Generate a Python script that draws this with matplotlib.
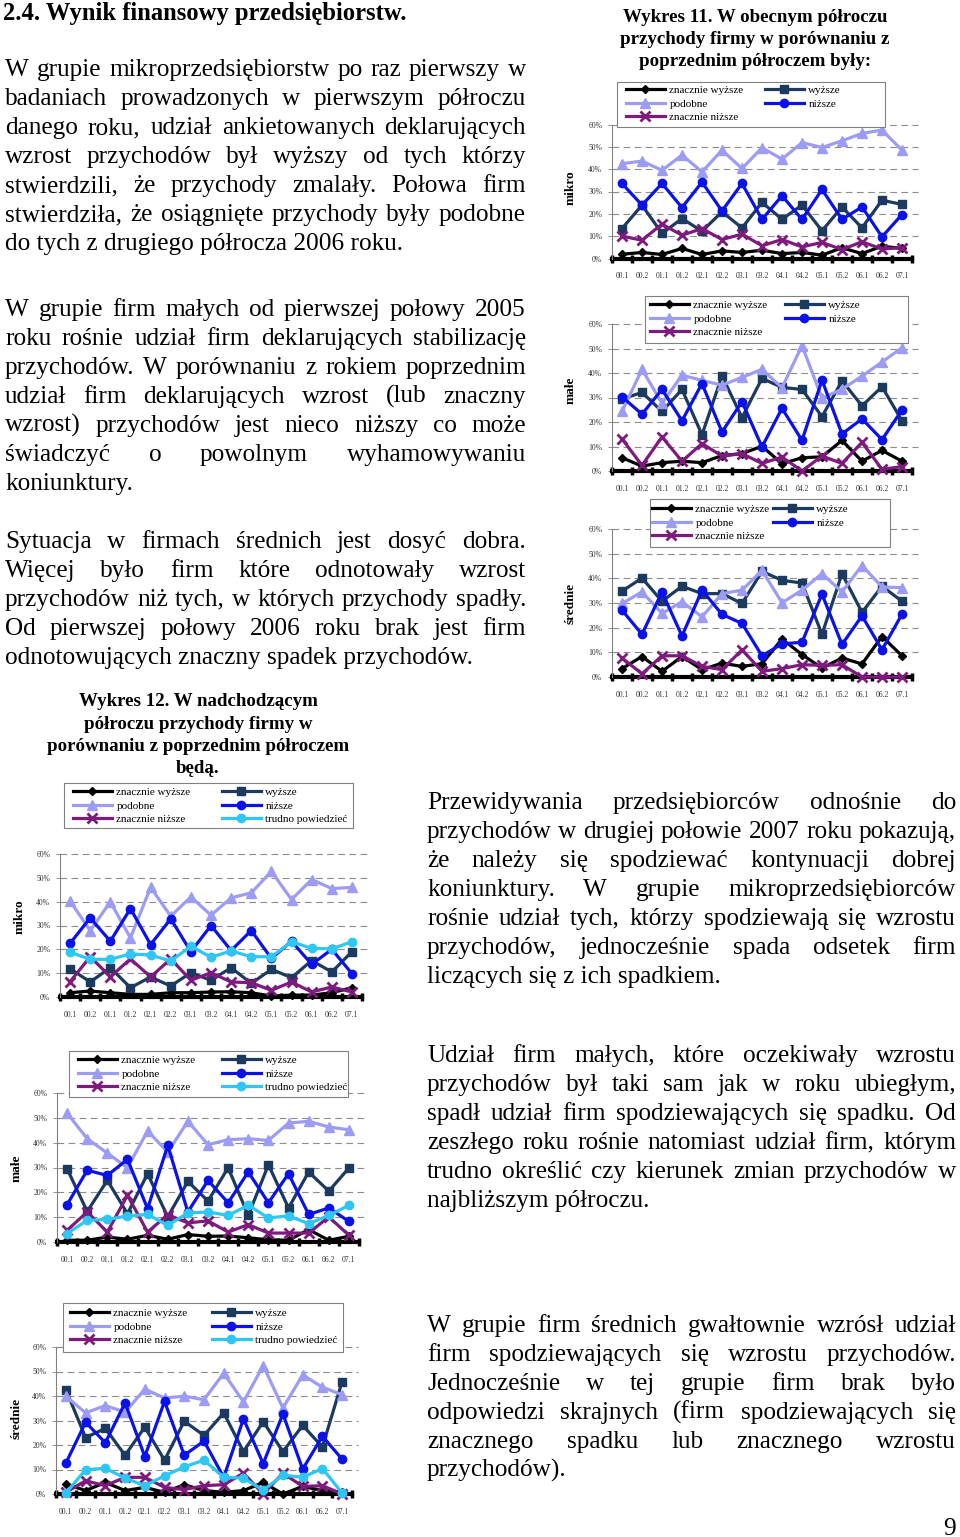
import numpy as np
import matplotlib.pyplot as plt
from matplotlib.font_manager import FontProperties

W, H = 960, 1537
plt.rcParams['font.family'] = ['Liberation Serif', 'DejaVu Serif']

okresy = ['00.1', '00.2', '01.1', '01.2', '02.1', '02.2', '03.1', '03.2',
          '04.1', '04.2', '05.1', '05.2', '06.1', '06.2', '07.1']

# Wykres 11 - obecne półrocze (%)
mikro11_zw = [1.9, 2.7, 1.8, 4.5, 1.8, 3.4, 2.7, 3.7, 2.2, 2.7, 1.5, 4.8, 2.2, 5.5, 4.5]
mikro11_wy = [13.4, 23.9, 11.2, 17.9, 12.2, 20.9, 13.7, 25.1, 17.6, 23.9, 12.4, 23.1, 13.7, 26.1, 24.2]
mikro11_pod = [42.5, 43.6, 39.5, 46.3, 38.8, 48.5, 40.3, 49.6, 44.5, 51.9, 49.7, 52.7, 56.0, 57.5, 48.5]
mikro11_ni = [33.6, 23.9, 33.6, 22.8, 34.2, 21.3, 33.6, 17.5, 28.1, 17.5, 30.9, 17.5, 23.1, 9.7, 19.7]
mikro11_zn = [10.0, 8.2, 15.4, 10.4, 13.4, 8.5, 10.9, 5.7, 8.5, 5.2, 7.2, 4.0, 7.5, 4.2, 4.9]

male11_zw = [5.4, 2.0, 3.4, 4.0, 3.4, 6.3, 7.1, 10.1, 3.0, 5.4, 5.8, 12.5, 4.0, 8.4, 4.0]
male11_wy = [29.3, 32.1, 24.3, 33.3, 14.8, 38.8, 21.8, 37.8, 34.1, 33.3, 22.2, 36.8, 26.6, 34.4, 20.5]
male11_pod = [24.3, 41.5, 27.6, 39.1, 37.0, 35.0, 38.2, 41.5, 34.0, 51.2, 29.7, 33.4, 38.7, 44.5, 50.3]
male11_ni = [30.3, 23.2, 33.3, 20.5, 35.7, 15.9, 28.3, 9.8, 25.6, 12.5, 37.1, 15.1, 21.3, 12.8, 24.9]
male11_zn = [13.1, 2.3, 13.9, 4.0, 11.2, 6.1, 7.1, 3.1, 5.7, 0.0, 6.1, 3.1, 11.7, 0.7, 1.8]

sr11_zw = [3.4, 8.3, 2.3, 8.3, 3.0, 5.6, 4.3, 5.4, 15.4, 9.1, 3.6, 7.7, 5.3, 16.4, 8.6]
sr11_wy = [34.8, 40.1, 30.7, 36.8, 33.8, 33.8, 29.8, 42.8, 39.2, 38.1, 17.3, 41.9, 26.2, 36.8, 30.7]
sr11_pod = [29.8, 34.5, 25.8, 30.5, 24.4, 33.8, 35.2, 43.2, 30.1, 35.2, 41.9, 34.5, 45.2, 36.5, 36.2]
sr11_ni = [27.1, 17.3, 34.5, 16.6, 35.2, 25.4, 21.7, 8.6, 13.4, 14.1, 33.6, 13.2, 24.8, 11.0, 25.5]
sr11_zn = [7.7, 1.3, 8.6, 8.6, 4.3, 3.0, 11.0, 2.3, 3.4, 5.0, 4.7, 5.0, 0.0, 0.0, 0.0]

# Wykres 12 - nadchodzące półrocze (%)
mikro12_zw = [1.8, 2.5, 1.8, 1.1, 1.1, 1.8, 1.8, 2.1, 2.2, 1.8, 0.4, 0.8, 0.8, 1.8, 3.9]
mikro12_wy = [11.9, 6.3, 12.3, 3.9, 8.4, 4.6, 10.2, 7.0, 12.3, 5.7, 11.6, 8.1, 15.3, 10.5, 19.0]
mikro12_pod = [40.2, 27.9, 39.9, 24.8, 46.0, 33.9, 42.0, 34.3, 41.6, 43.7, 52.7, 40.9, 49.3, 45.5, 46.0]
mikro12_ni = [22.5, 33.2, 23.4, 37.1, 22.0, 32.8, 19.0, 30.0, 19.5, 27.9, 16.2, 23.4, 13.7, 20.0, 9.8]
mikro12_zn = [6.4, 16.9, 8.5, 16.0, 8.4, 16.0, 7.0, 10.2, 6.3, 6.0, 2.8, 6.3, 2.1, 4.2, 2.1]
mikro12_tr = [18.8, 15.8, 15.8, 18.1, 17.6, 15.1, 21.3, 16.7, 19.3, 16.9, 16.9, 23.2, 20.4, 20.2, 23.2]

male12_zw = [0.7, 0.7, 2.0, 1.1, 2.7, 1.1, 3.0, 2.3, 2.4, 1.7, 0.9, 0.7, 5.0, 0.7, 2.3]
male12_wy = [29.5, 12.3, 24.8, 11.4, 27.5, 10.1, 24.4, 16.5, 29.9, 10.7, 31.1, 13.7, 28.2, 20.5, 29.8]
male12_pod = [51.9, 41.6, 35.8, 29.9, 44.7, 36.2, 48.6, 39.2, 41.2, 41.6, 40.9, 47.9, 48.6, 46.3, 45.2]
male12_ni = [15.0, 28.9, 26.8, 33.3, 13.4, 38.9, 12.1, 24.8, 15.8, 28.2, 15.8, 27.5, 11.1, 13.7, 8.3]
male12_zn = [4.7, 12.1, 4.0, 18.8, 4.0, 11.0, 7.7, 8.5, 4.0, 7.0, 3.6, 3.6, 3.6, 10.1, 2.7]
male12_tr = [3.4, 8.7, 9.1, 10.5, 11.1, 6.7, 11.7, 12.1, 10.7, 14.8, 9.7, 10.5, 7.4, 10.7, 14.8]

sr12_zw = [4.1, 1.4, 4.7, 1.4, 2.7, 0.7, 3.8, 1.4, 0.7, 1.4, 4.7, 0.0, 3.1, 1.4, 0.7]
sr12_wy = [42.6, 23.0, 26.8, 15.8, 27.3, 13.8, 29.7, 23.9, 33.1, 17.3, 29.5, 17.3, 28.0, 19.2, 45.9]
sr12_pod = [39.9, 33.1, 36.1, 33.4, 42.8, 39.2, 39.9, 38.5, 49.3, 37.6, 52.4, 35.1, 48.6, 43.6, 40.5]
sr12_ni = [12.6, 29.3, 20.9, 37.2, 15.3, 37.8, 15.8, 21.6, 6.8, 30.7, 12.4, 32.7, 10.1, 23.6, 14.2]
sr12_zn = [0.7, 5.4, 3.4, 6.8, 6.8, 2.7, 1.8, 3.4, 3.8, 8.5, 0.0, 8.5, 3.1, 3.4, 0.0]
sr12_tr = [0.4, 9.9, 10.5, 6.5, 3.4, 7.4, 11.1, 13.8, 6.8, 6.5, 1.6, 7.7, 6.8, 10.4, 0.4]

# nazwa serii, kolor, marker, rozmiar
serie = {
    'zw': ('znacznie wyższe', '#000000', 'D', 4.5),
    'wy': ('wyższe', '#1B3A5E', 's', 6),
    'pod': ('podobne', '#9C9CF4', '^', 7),
    'ni': ('niższe', '#0A12E8', 'o', 6),
    'zn': ('znacznie niższe', '#7E1A7E', 'x', 7),
    'tr': ('trudno powiedzieć', '#2EC6F2', 'o', 6),
}

fig = plt.figure(figsize=(W / 100, H / 100), dpi=100)


def prost(l, t, r, b):
    return [l / W, 1 - b / H, (r - l) / W, (b - t) / H]


def wykres(rect, dane, etykieta, lab_xy, ramka, kol1, kol2, wiersz1):
    ax = fig.add_axes(prost(*rect))
    x = np.arange(len(okresy))
    uchwyty = {}
    for k in ['zw', 'wy', 'pod', 'ni', 'zn', 'tr']:
        if k not in dane:
            continue
        nazwa, kol, mk, ms = serie[k]
        ln, = ax.plot(x, dane[k], color=kol, lw=2.3, marker=mk, ms=ms,
                      mew=2 if mk == 'x' else 1, mec=kol, mfc=kol,
                      label=nazwa, clip_on=False, zorder=3)
        uchwyty[k] = ln
    ax.set_xlim(-0.5, len(okresy) - 0.5)
    ax.set_ylim(0, 60)
    ax.set_yticks(range(0, 61, 10))
    ax.set_yticklabels([f'{v}%' for v in range(0, 61, 10)])
    ax.set_xticks(x)
    ax.set_xticklabels(okresy)
    ax.set_xticks(np.arange(len(okresy) + 1) - 0.5, minor=True)
    ax.tick_params(axis='x', which='major', length=0, pad=10, labelsize=5.5,
                   labelcolor='#333333')
    ax.tick_params(axis='x', which='minor', length=6, width=2.5,
                   direction='inout', color='black')
    ax.tick_params(axis='y', length=3, width=0.6, color='#808080', pad=4,
                   labelsize=5.5, labelcolor='#333333')
    for v in range(10, 61, 10):
        ax.axhline(v, color='#8C8C8C', lw=0.8, ls=(0, (6, 4)), zorder=1,
                   xmax=1.02, clip_on=False)
    for s in ['top', 'right']:
        ax.spines[s].set_visible(False)
    ax.spines['left'].set_color('#808080')
    ax.spines['left'].set_linewidth(0.8)
    ax.spines['bottom'].set_linewidth(3)
    ax.spines['bottom'].set_zorder(2)
    fig.text(lab_xy[0] / W, 1 - lab_xy[1] / H, etykieta, rotation=90,
             ha='center', va='center', fontsize=9.5, fontweight='bold')

    # ramka legendy
    l, t, r, b = ramka
    fig.add_artist(plt.Rectangle((l / W, 1 - b / H), (r - l) / W, (b - t) / H,
                                 transform=fig.transFigure, facecolor='white',
                                 edgecolor='#808080', lw=0.8, zorder=2))
    lewa = [uchwyty[k] for k in ['zw', 'pod', 'zn'] if k in uchwyty]
    prawa = [uchwyty[k] for k in ['wy', 'ni', 'tr'] if k in uchwyty]
    for h, xk in ((lewa, kol1), (prawa, kol2)):
        fig.legend(handles=h, loc='upper left',
                   bbox_to_anchor=(xk / W, 1 - (wiersz1 - 5) / H),
                   fontsize=8, handlelength=3.5, handletextpad=0.4,
                   labelspacing=0.36, borderpad=0, borderaxespad=0,
                   numpoints=1, frameon=False)
    return ax


wykres((612, 124.5, 912, 258.5),
       dict(zw=mikro11_zw, wy=mikro11_wy, pod=mikro11_pod, ni=mikro11_ni, zn=mikro11_zn),
       'mikro', (571, 188), (617, 82, 885, 127), 626, 765, 90)
wykres((612, 324, 912, 471),
       dict(zw=male11_zw, wy=male11_wy, pod=male11_pod, ni=male11_ni, zn=male11_zn),
       'małe', (571, 390), (645, 296, 908, 343), 650, 785, 305)
wykres((612, 529, 912, 677),
       dict(zw=sr11_zw, wy=sr11_wy, pod=sr11_pod, ni=sr11_ni, zn=sr11_zn),
       'średnie', (571, 603), (650, 499, 890, 547), 652, 773, 509)
wykres((60, 854, 362, 997),
       dict(zw=mikro12_zw, wy=mikro12_wy, pod=mikro12_pod, ni=mikro12_ni,
            zn=mikro12_zn, tr=mikro12_tr),
       'mikro', (20, 917), (64, 783, 353, 828), 73, 222, 792)
wykres((57, 1093, 359, 1242),
       dict(zw=male12_zw, wy=male12_wy, pod=male12_pod, ni=male12_ni,
            zn=male12_zn, tr=male12_tr),
       'małe', (17, 1168), (69, 1051, 348, 1097), 78, 222, 1060)
wykres((56, 1347, 352, 1494),
       dict(zw=sr12_zw, wy=sr12_wy, pod=sr12_pod, ni=sr12_ni,
            zn=sr12_zn, tr=sr12_tr),
       'średnie', (17, 1418), (63, 1303, 343, 1352), 70, 212, 1313)

# tytuły wykresów
tyt11 = ['Wykres 11. W obecnym półroczu', 'przychody firmy w porównaniu z',
         'poprzednim półroczem były:']
for i, s in enumerate(tyt11):
    fig.text(755 / W, 1 - (17 + 22 * i) / H, s, ha='center', va='center',
             fontsize=13.6, fontweight='bold')
tyt12 = ['Wykres 12. W nadchodzącym', 'półroczu przychody firmy w',
         'porównaniu z poprzednim półroczem', 'będą.']
for i, s in enumerate(tyt12):
    fig.text(198 / W, 1 - (702 + 22.3 * i) / H, s, ha='center', va='center',
             fontsize=13.6, fontweight='bold')

# tekst strony
fp = FontProperties(family='Liberation Serif', size=18.2)
rend = fig.canvas.get_renderer()


def akapit(linie, x0, x1, y0, dy=29):
    for i, linia in enumerate(linie):
        y = 1 - (y0 + i * dy) / H
        slowa = linia.split()
        if i == len(linie) - 1 or len(slowa) == 1:
            fig.text(x0 / W, y, linia, fontproperties=fp, va='baseline')
            continue
        szer = [rend.get_text_width_height_descent(s, fp, ismath=False)[0] for s in slowa]
        odstep = (x1 - x0 - sum(szer)) / (len(slowa) - 1)
        xx = x0
        for s, w in zip(slowa, szer):
            fig.text(xx / W, y, s, fontproperties=fp, va='baseline')
            xx += w + odstep


fig.text(3 / W, 1 - 20 / H, '2.4. Wynik finansowy przedsiębiorstw.',
         fontproperties=FontProperties(family='Liberation Serif', size=17.7, weight='bold'),
         va='baseline')

akapit(['W grupie mikroprzedsiębiorstw po raz pierwszy w',
        'badaniach prowadzonych w pierwszym półroczu',
        'danego roku, udział ankietowanych deklarujących',
        'wzrost przychodów był wyższy od tych którzy',
        'stwierdzili, że przychody zmalały. Połowa firm',
        'stwierdziła, że osiągnięte przychody były podobne',
        'do tych z drugiego półrocza 2006 roku.'], 5, 526, 76)
akapit(['W grupie firm małych od pierwszej połowy 2005',
        'roku rośnie udział firm deklarujących stabilizację',
        'przychodów. W porównaniu z rokiem poprzednim',
        'udział firm deklarujących wzrost (lub znaczny',
        'wzrost) przychodów jest nieco niższy co może',
        'świadczyć o powolnym wyhamowywaniu',
        'koniunktury.'], 5, 526, 316)
akapit(['Sytuacja w firmach średnich jest dosyć dobra.',
        'Więcej było firm które odnotowały wzrost',
        'przychodów niż tych, w których przychody spadły.',
        'Od pierwszej połowy 2006 roku brak jest firm',
        'odnotowujących znaczny spadek przychodów.'], 5, 526, 548)
akapit(['Przewidywania przedsiębiorców odnośnie do',
        'przychodów w drugiej połowie 2007 roku pokazują,',
        'że należy się spodziewać kontynuacji dobrej',
        'koniunktury. W grupie mikroprzedsiębiorców',
        'rośnie udział tych, którzy spodziewają się wzrostu',
        'przychodów, jednocześnie spada odsetek firm',
        'liczących się z ich spadkiem.'], 427, 956, 809)
akapit(['Udział firm małych, które oczekiwały wzrostu',
        'przychodów był taki sam jak w roku ubiegłym,',
        'spadł udział firm spodziewających się spadku. Od',
        'zeszłego roku rośnie natomiast udział firm, którym',
        'trudno określić czy kierunek zmian przychodów w',
        'najbliższym półroczu.'], 427, 956, 1062)
akapit(['W grupie firm średnich gwałtownie wzrósł udział',
        'firm spodziewających się wzrostu przychodów.',
        'Jednocześnie w tej grupie firm brak było',
        'odpowiedzi skrajnych (firm spodziewających się',
        'znacznego spadku lub znacznego wzrostu',
        'przychodów).'], 427, 956, 1332)
fig.text(956 / W, 1 - 1535 / H, '9', fontproperties=fp, ha='right', va='baseline')

fig.savefig('out.png', dpi=100)
